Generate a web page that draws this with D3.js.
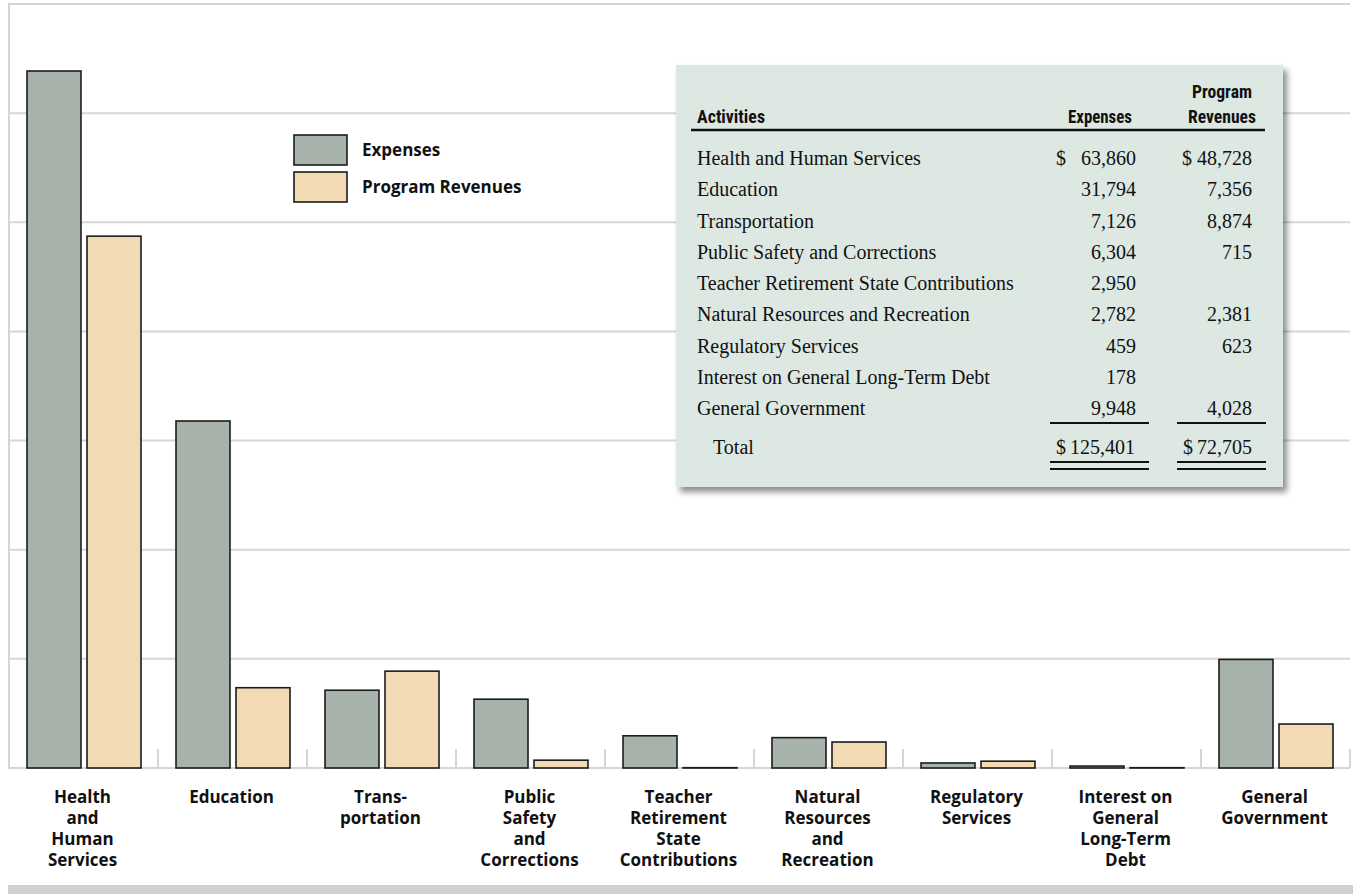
<!DOCTYPE html>
<html>
<head>
<meta charset="utf-8">
<script src="https://cdn.jsdelivr.net/npm/d3@7"></script>
<style>
  body { margin: 0; background: #fff; }
  svg { display: block; }
</style>
</head>
<body>
<div id="chart"></div>
<script>
// ---- data (thousands of dollars) ----
var activities = [
    "Health and Human Services",
    "Education",
    "Transportation",
    "Public Safety and Corrections",
    "Teacher Retirement State Contributions",
    "Natural Resources and Recreation",
    "Regulatory Services",
    "Interest on General Long-Term Debt",
    "General Government"
];
var axisLabels = [
    ["Health", "and", "Human", "Services"],
    ["Education"],
    ["Trans-", "portation"],
    ["Public", "Safety", "and", "Corrections"],
    ["Teacher", "Retirement", "State", "Contributions"],
    ["Natural", "Resources", "and", "Recreation"],
    ["Regulatory", "Services"],
    ["Interest on", "General", "Long-Term", "Debt"],
    ["General", "Government"]
];
var expenses = [63860, 31794, 7126, 6304, 2950, 2782, 459, 178, 9948];
var revenues = [48728, 7356, 8874, 715, null, 2381, 623, null, 4028];
var seriesNames = ["Expenses", "Program Revenues"];
var yTickValues = [10000, 20000, 30000, 40000, 50000, 60000, 70000];

var W = 1353, H = 894;
var plotLeft = 9, plotRight = 1350, plotTop = 4, baseline = 768;
var colors = {"Expenses": "#a7b3aa", "Program Revenues": "#f1dab4"};
var gridColor = "#d6d6d6";
var sansBold = "'Open Sans', 'Noto Sans', sans-serif";
var narrowBold = "'Liberation Sans Narrow', 'Roboto Condensed', 'Open Sans', sans-serif";
var serif = "'Liberation Serif', 'Times New Roman', serif";

var svg = d3.select("#chart").append("svg")
    .attr("width", W)
    .attr("height", H);

var defs = svg.append("defs");
var shadow = defs.append("filter")
    .attr("id", "shadow")
    .attr("x", "-5%").attr("y", "-5%")
    .attr("width", "115%").attr("height", "120%");
shadow.append("feDropShadow")
    .attr("dx", 4).attr("dy", 5)
    .attr("stdDeviation", 3)
    .attr("flood-color", "#000")
    .attr("flood-opacity", 0.45);

// scales
var x0 = d3.scaleBand()
    .domain(activities)
    .range([plotLeft, plotRight])
    .padding(0);
var x1 = d3.scaleBand()
    .domain(seriesNames)
    .range([18, 132])
    .paddingInner(0.1);
var y = d3.scaleLinear()
    .domain([0, 70000])
    .range([baseline, plotTop]);

// gridlines + frame
svg.append("g").selectAll("line")
    .data(yTickValues)
    .enter().append("line")
    .attr("x1", plotLeft).attr("x2", plotRight)
    .attr("y1", function (d) { return y(d); })
    .attr("y2", function (d) { return y(d); })
    .attr("stroke", gridColor)
    .attr("stroke-width", 2);
svg.append("line")
    .attr("x1", plotLeft).attr("x2", plotLeft)
    .attr("y1", plotTop - 1).attr("y2", baseline + 1)
    .attr("stroke", gridColor).attr("stroke-width", 2);
svg.append("line")
    .attr("x1", plotLeft).attr("x2", plotRight)
    .attr("y1", baseline).attr("y2", baseline)
    .attr("stroke", gridColor).attr("stroke-width", 2);

// small tick marks between categories
svg.append("g").selectAll("line")
    .data(activities)
    .enter().append("line")
    .attr("x1", function (d) { return x0(d) + x0.bandwidth(); })
    .attr("x2", function (d) { return x0(d) + x0.bandwidth(); })
    .attr("y1", baseline - 19).attr("y2", baseline)
    .attr("stroke", gridColor).attr("stroke-width", 2);

// bars (empty values still draw as a flat outline on the baseline)
var rows = activities.map(function (a, i) {
    return {name: a, values: [
        {key: "Expenses", value: expenses[i]},
        {key: "Program Revenues", value: revenues[i] || 0}
    ]};
});
var groups = svg.append("g").selectAll("g")
    .data(rows)
    .enter().append("g")
    .attr("transform", function (d) { return "translate(" + x0(d.name) + ",0)"; });
groups.selectAll("rect")
    .data(function (d) { return d.values; })
    .enter().append("rect")
    .attr("x", function (d) { return x1(d.key); })
    .attr("y", function (d) { return Math.min(y(d.value), baseline - 0.3); })
    .attr("width", x1.bandwidth())
    .attr("height", function (d) { return Math.max(baseline - y(d.value), 0.3); })
    .attr("fill", function (d) { return colors[d.key]; })
    .attr("stroke", "#1c1c1c")
    .attr("stroke-width", 1.6);

// category labels
var labels = svg.append("g").selectAll("text")
    .data(activities)
    .enter().append("text")
    .attr("x", function (d) { return x0(d) + x0.bandwidth() / 2 - 1; })
    .attr("y", 803)
    .attr("text-anchor", "middle")
    .style("font-family", sansBold)
    .style("font-weight", "bold")
    .style("font-size", "17px")
    .style("fill", "#111");
labels.each(function (d, i) {
    var t = d3.select(this);
    axisLabels[i].forEach(function (line, j) {
        t.append("tspan")
            .attr("x", x0(d) + x0.bandwidth() / 2 - 1)
            .attr("dy", j === 0 ? 0 : 21)
            .text(line);
    });
});

// bottom band
svg.append("rect")
    .attr("x", 8).attr("y", 885)
    .attr("width", W - 8).attr("height", 9)
    .attr("fill", "#cdcfd1");

// legend
var legend = svg.append("g").selectAll("g")
    .data(seriesNames)
    .enter().append("g")
    .attr("transform", function (d, i) { return "translate(294," + (135 + i * 37) + ")"; });
legend.append("rect")
    .attr("width", 53).attr("height", 30)
    .attr("fill", function (d) { return colors[d]; })
    .attr("stroke", "#1c1c1c").attr("stroke-width", 1.6);
legend.append("text")
    .attr("x", 68).attr("y", 21)
    .style("font-family", sansBold)
    .style("font-weight", "bold")
    .style("font-size", "17px")
    .style("fill", "#111")
    .text(function (d) { return d; });

// table panel
var tbl = svg.append("g");
tbl.append("rect")
    .attr("x", 676).attr("y", 65)
    .attr("width", 607).attr("height", 422)
    .attr("fill", "#dde8e3")
    .attr("filter", "url(#shadow)");

function header(txt, x, yy, anchor, len) {
    tbl.append("text")
        .attr("x", x).attr("y", yy)
        .attr("text-anchor", anchor)
        .attr("textLength", len)
        .attr("lengthAdjust", "spacingAndGlyphs")
        .style("font-family", narrowBold)
        .style("font-weight", "bold")
        .style("font-size", "19px")
        .style("fill", "#111")
        .text(txt);
}
header("Activities", 697, 123, "start", 68);
header("Expenses", 1068, 123, "start", 64);
header("Program", 1192, 98, "start", 60);
header("Revenues", 1188, 123, "start", 68);
tbl.append("line")
    .attr("x1", 691).attr("x2", 1265)
    .attr("y1", 130).attr("y2", 130)
    .attr("stroke", "#111").attr("stroke-width", 2.5);

var fmt = d3.format(",");
var rowY = function (i) { return 165 + i * 31.25; };
function cell(txt, x, yy, anchor) {
    tbl.append("text")
        .attr("x", x).attr("y", yy)
        .attr("text-anchor", anchor)
        .style("font-family", serif)
        .style("font-size", "20px")
        .style("fill", "#111")
        .text(txt);
}
activities.forEach(function (a, i) {
    cell(a, 697, rowY(i), "start");
    cell(fmt(expenses[i]), 1136, rowY(i), "end");
    if (revenues[i] !== null) cell(fmt(revenues[i]), 1252, rowY(i), "end");
});
cell("$", 1056, rowY(0), "start");
cell("$", 1182, rowY(0), "start");

var totalY = 454;
cell("Total", 713, totalY, "start");
cell("$", 1056, totalY, "start");
cell(fmt(d3.sum(expenses)), 1135, totalY, "end");
cell("$", 1183, totalY, "start");
cell(fmt(d3.sum(revenues)), 1252, totalY, "end");

function rule(xa, xb, yy) {
    tbl.append("line")
        .attr("x1", xa).attr("x2", xb)
        .attr("y1", yy).attr("y2", yy)
        .attr("stroke", "#111").attr("stroke-width", 2);
}
rule(1050, 1149, 423);
rule(1177, 1266, 423);
rule(1050, 1149, 462);
rule(1050, 1149, 469);
rule(1177, 1266, 462);
rule(1177, 1266, 469);
</script>
</body>
</html>
